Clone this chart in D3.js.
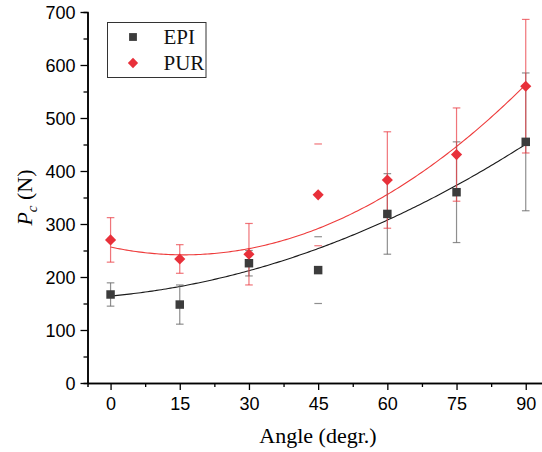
<!DOCTYPE html>
<html><head><meta charset="utf-8">
<script src="https://cdn.jsdelivr.net/npm/d3@7"></script>
<style>
html,body{margin:0;padding:0;background:#fff;overflow:hidden}
svg{display:block}
</style></head>
<body>
<script>
// ---- data ----
const angles = [0, 15, 30, 45, 60, 75, 90];
const epiValues = [167, 148, 226, 213, 319, 360, 455];
const epiErrors = [22, 37, 24, 63, 76, 95, 130];
const purValues = [270, 234, 243, 355, 383, 431, 560];
const purErrors = [42, 27, 58, 96, 91, 88, 126];
// quadratic fit coefficients [c0, c1, c2] : y = c0 + c1*x + c2*x^2
const epiFit = [164.1, 0.798, 0.02649];
const purFit = [256.5, -1.853, 0.05844];
const xTicks = [0, 15, 30, 45, 60, 75, 90];
const yTicks = [0, 100, 200, 300, 400, 500, 600, 700];
const seriesNames = ["EPI", "PUR"];

// ---- layout ----
const W = 542, H = 452;
const svg = d3.select("body").append("svg").attr("width", W).attr("height", H);
const x = d3.scaleLinear().domain([-5, 95]).range([87.5, 548.8]);
const y = d3.scaleLinear().domain([0, 700]).range([383, 12]);
const hiddenStemAngles = [45];

const series = [
  {name: seriesNames[0], vals: epiValues, errs: epiErrors, fit: epiFit, color: "#3c3c3c", err: "#6a6a6a", errOp: 0.75, line: "#1a1a1a", rot: 0, size: 72},
  {name: seriesNames[1], vals: purValues, errs: purErrors, fit: purFit, color: "#e8303a", err: "#ea3a42", errOp: 0.7, line: "#ee3b3b", rot: 45, size: 62}
];

// fit curves
const fitX = d3.range(0, 90.01, 0.5);
const lineGen = d3.line().x(d => x(d[0])).y(d => y(d[1]));
series.forEach(s => {
  svg.append("path")
    .datum(fitX.map(v => [v, s.fit[0] + s.fit[1] * v + s.fit[2] * v * v]))
    .attr("d", lineGen).attr("fill", "none").attr("stroke", s.line).attr("stroke-width", 1.1);
});

// error bars + markers
series.forEach(s => {
  const g = svg.append("g");
  angles.forEach((a, i) => {
    const cx = x(a), top = y(s.vals[i] + s.errs[i]), bot = y(s.vals[i] - s.errs[i]);
    const eg = g.append("g").attr("stroke", s.err).attr("stroke-opacity", s.errOp).attr("stroke-width", 1.2);
    if (!hiddenStemAngles.includes(a)) eg.append("line").attr("x1", cx).attr("x2", cx).attr("y1", top).attr("y2", bot);
    eg.append("line").attr("x1", cx - 3.8).attr("x2", cx + 3.8).attr("y1", top).attr("y2", top);
    eg.append("line").attr("x1", cx - 3.8).attr("x2", cx + 3.8).attr("y1", bot).attr("y2", bot);
  });
});
series.forEach(s => {
  svg.append("g").selectAll("path").data(angles).join("path")
    .attr("transform", (a, i) => `translate(${x(a)},${y(s.vals[i])}) rotate(${s.rot})`)
    .attr("d", d3.symbol().type(d3.symbolSquare).size(s.size))
    .attr("fill", s.color);
});

// axes
const xAxis = svg.append("g").attr("transform", "translate(0,383)");
xAxis.call(d3.axisBottom(x).tickValues(xTicks).tickSize(7).tickSizeOuter(0).tickFormat(d3.format("d")));
xAxis.append("g").call(d3.axisBottom(x).tickValues(d3.range(7.5, 95, 15)).tickSize(4).tickFormat(""));
const yAxis = svg.append("g").attr("transform", "translate(87.5,0)");
yAxis.call(d3.axisLeft(y).tickValues(yTicks).tickSize(7).tickSizeOuter(0).tickFormat(d3.format("d")));
yAxis.append("g").call(d3.axisLeft(y).tickValues(d3.range(50, 700, 100)).tickSize(4).tickFormat(""));
svg.selectAll(".domain").attr("stroke", "#000").attr("stroke-width", 1.5);
svg.selectAll(".tick line").attr("stroke", "#000").attr("stroke-width", 1.3);
svg.selectAll(".tick text").attr("font-family", "'Liberation Sans', Arial, sans-serif").attr("font-size", 18).attr("fill", "#000");
xAxis.selectAll(".tick text").attr("dy", null).attr("y", 27);
yAxis.selectAll(".tick text").attr("x", -12).attr("dy", "0.34em");

// axis titles
svg.append("text").attr("x", 318).attr("y", 443).attr("text-anchor", "middle")
  .attr("font-family", "'Liberation Serif', 'Times New Roman', serif").attr("font-size", 22).text("Angle (degr.)");
const yt = svg.append("text").attr("transform", "translate(32,197.5) rotate(-90)").attr("text-anchor", "middle")
  .attr("font-family", "'Liberation Serif', 'Times New Roman', serif").attr("font-size", 22);
yt.append("tspan").attr("font-style", "italic").text("P");
yt.append("tspan").attr("font-style", "italic").attr("font-size", 15).attr("dy", 5).text("c");
yt.append("tspan").attr("dy", -5).text(" (N)");

// legend
const lg = svg.append("g");
lg.append("rect").attr("x", 107.5).attr("y", 22.5).attr("width", 98.5).attr("height", 55)
  .attr("fill", "#fff").attr("stroke", "#333").attr("stroke-width", 1);
series.forEach((s, i) => {
  const yy = 37 + i * 26;
  lg.append("path").attr("transform", `translate(133,${yy}) rotate(${s.rot})`).attr("d", d3.symbol().type(d3.symbolSquare).size(s.size * 0.85)).attr("fill", s.color);
  lg.append("text").attr("x", 163.5).attr("y", yy + 7).attr("font-family", "'Liberation Serif', 'Times New Roman', serif")
    .attr("font-size", 21).attr("fill", "#111").text(s.name);
});
</script>
</body></html>
